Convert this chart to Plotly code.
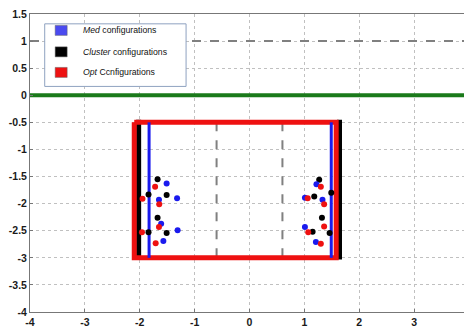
import plotly.graph_objects as go

# ---- data ----
rect_x = [-2.1, 1.58, 1.58, -2.1, -2.1]
rect_y = [-0.5, -0.5, -3.0, -3.0, -0.5]
black_left_x = [-2.02, -2.02]
black_right_x = [1.64, 1.64]
black_y = [-0.45, -3.03]
blue_left_x = [-1.83, -1.83]
blue_right_x = [1.49, 1.49]
vline_y = [-0.5, -3.0]
dash_left_x = [-0.6, -0.6]
dash_right_x = [0.6, 0.6]
hline_x = [-4, 4]
dash_h_y = [1, 1]
green_y = [0, 0]

med_x = [-1.51, -1.65, -1.32, -1.61, -1.31, -1.57,
         1.22, 1.01, 1.33, 1.01, 1.21]
med_y = [-1.63, -1.93, -1.90, -2.37, -2.49, -2.69,
         -1.64, -1.89, -1.93, -2.43, -2.71]
clu_x = [-1.675, -1.84, -1.51, -1.675, -1.84, -1.51,
         1.27, 1.49, 1.18, 1.32, 1.15, 1.46]
clu_y = [-1.55, -1.83, -1.84, -2.26, -2.53, -2.54,
         -1.56, -1.80, -1.87, -2.26, -2.52, -2.54]
opt_x = [-1.72, -1.95, -1.645, -1.65, -1.96, -1.71,
         1.30, 1.06, 1.36, 1.36, 1.07, 1.30]
opt_y = [-1.69, -1.91, -2.01, -2.43, -2.53, -2.73,
         -1.69, -1.90, -2.01, -2.42, -2.53, -2.74]

x_ticks = [-4, -3, -2, -1, 0, 1, 2, 3, 4]
x_labels = ["-4", "-3", "-2", "-1", "0", "1", "2", "3", "4"]
y_ticks = [1.5, 1, 0.5, 0, -0.5, -1, -1.5, -2, -2.5, -3, -3.5, -4]
y_labels = ["1.5", "1", "0.5", "0", "-0.5", "-1", "-1.5", "-2", "-2.5", "-3", "-3.5", "-4"]

legend_names = ["<i>Med</i> configurations", "<i>Cluster</i> configurations", "<i>Opt</i> Ccnfigurations"]
legend_colors = ["#4a4af0", "#000000", "#ee1111"]

fig = go.Figure()

def line(x, y, color, width, dash="solid"):
    fig.add_trace(go.Scatter(x=x, y=y, mode="lines", showlegend=False, hoverinfo="skip",
                             line=dict(color=color, width=width, dash=dash)))

line(hline_x, dash_h_y, "#808080", 2, "dash")
line(hline_x, green_y, "#1a7a1a", 4)
line(dash_left_x, vline_y, "#808080", 2, "dash")
line(dash_right_x, vline_y, "#808080", 2, "dash")
line(black_left_x, black_y, "#000000", 5)
line(black_right_x, black_y, "#000000", 5)
line(rect_x, rect_y, "#ee1111", 5)
line(blue_left_x, vline_y, "#1a1aee", 3)
line(blue_right_x, vline_y, "#1a1aee", 3)

fig.add_trace(go.Scatter(x=clu_x, y=clu_y, mode="markers", showlegend=False,
                         marker=dict(color="#000000", size=6)))
fig.add_trace(go.Scatter(x=med_x, y=med_y, mode="markers", showlegend=False,
                         marker=dict(color="#1a1aee", size=6)))
fig.add_trace(go.Scatter(x=opt_x, y=opt_y, mode="markers", showlegend=False,
                         marker=dict(color="#ee1111", size=6)))

# ---- hand-made legend box (paper coordinates) ----
fig.add_shape(type="rect", xref="paper", yref="paper",
              x0=0.0335, x1=0.3555, y0=0.757, y1=0.967,
              fillcolor="white", line=dict(color="#8ea2c0", width=1), layer="above")
item_y = [0.945, 0.873, 0.804]
for name, col, yy in zip(legend_names, legend_colors, item_y):
    fig.add_shape(type="rect", xref="paper", yref="paper",
                  xsizemode="pixel", ysizemode="pixel",
                  xanchor=0.071, yanchor=yy, x0=-6, x1=6, y0=-5, y1=5,
                  fillcolor=col, line=dict(color="#666", width=0.5), layer="above")
    fig.add_annotation(x=0.1155, y=yy, xref="paper", yref="paper",
                       xanchor="left", yanchor="middle", showarrow=False,
                       text=name, font=dict(size=8.7, color="#111",
                                            family="Liberation Sans, Arial, sans-serif"))

tick_font = dict(family="Liberation Sans, Arial, sans-serif", size=10.5, color="#1a1a1a",
                 weight="bold")

# The page body has an 8px margin, so the figure is sized/margined to compensate.
fig.update_layout(
    width=464, height=320,
    margin=dict(l=22, r=0, t=2, b=15, pad=0),
    paper_bgcolor="white", plot_bgcolor="white",
    showlegend=False,
    font=dict(family="Liberation Sans, Arial, sans-serif", size=11, color="#111"),
    xaxis=dict(range=[-4, 4], tickvals=x_ticks, ticktext=x_labels, tickfont=tick_font,
               showgrid=True, gridcolor="#c0c0c0", griddash="dot", gridwidth=1,
               zeroline=False, showline=True, linecolor="#777", mirror=True,
               ticks="inside", ticklen=3, tickcolor="#777",
               ticklabeloverflow="allow"),
    yaxis=dict(range=[-4, 1.5], tickvals=y_ticks, ticktext=y_labels, tickfont=tick_font,
               showgrid=True, gridcolor="#c0c0c0", griddash="dot", gridwidth=1,
               zeroline=False, showline=True, linecolor="#777", mirror=True,
               ticks="inside", ticklen=3, tickcolor="#777",
               ticklabeloverflow="allow"),
)

fig.write_html("out.html")
